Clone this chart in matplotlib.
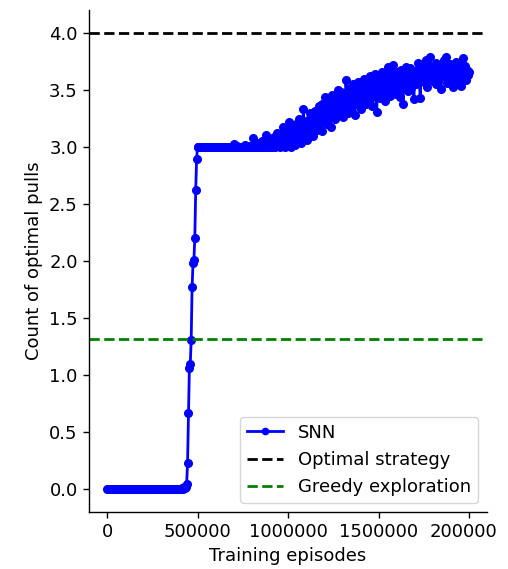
import numpy as np
import matplotlib
matplotlib.use("Agg")
import matplotlib.pyplot as plt
from matplotlib.transforms import Bbox, TransformedBbox

# 每 5000 個 episode 記錄一次
episodes = np.arange(0, 2000001, 5000)

# 平均最佳拉桿次數（從圖上讀的）
snn_pulls = [
    # 0 .. 395000
    0, 0, 0, 0, 0, 0, 0, 0, 0, 0, 0, 0, 0, 0, 0, 0, 0, 0, 0, 0,
    0, 0, 0, 0, 0, 0, 0, 0, 0, 0, 0, 0, 0, 0, 0, 0, 0, 0, 0, 0,
    0, 0, 0, 0, 0, 0, 0, 0, 0, 0, 0, 0, 0, 0, 0, 0, 0, 0, 0, 0,
    0, 0, 0, 0, 0, 0, 0, 0, 0, 0, 0, 0, 0, 0, 0, 0, 0, 0, 0, 0,
    # 400000 .. 495000
    0.0, 0.0, 0.0, 0.01, 0.0, 0.02, 0.01, 0.02,
    0.05, 0.23, 0.67, 1.06, 1.10, 1.31, 1.77, 1.98, 2.01, 2.20, 2.62, 2.90,
    # 500000 .. 695000
    3.0, 3.0, 3.0, 3.0, 3.0, 3.0, 3.0, 3.0, 3.0, 3.0, 3.0, 3.0, 3.0, 3.0, 3.0, 3.0, 3.0, 3.0, 3.0, 3.0,
    3.0, 3.0, 3.0, 3.0, 3.0, 3.0, 3.0, 3.0, 3.0, 3.0, 3.0, 3.0, 3.0, 3.0, 3.0, 3.0, 3.0, 3.0, 3.0, 3.0,
    # 700000 .. 795000
    3.03, 3.0, 3.0, 3.0, 3.01, 3.0, 3.0, 3.0, 3.0, 3.0, 3.0, 3.0, 3.02, 3.0, 3.0, 3.0, 3.0, 3.01, 3.0, 3.0,
    # 800000 .. 895000
    3.0, 3.08, 3.0, 3.0, 3.02, 3.0, 3.04, 3.0, 3.0, 3.03, 3.0, 3.05, 3.01, 3.0, 3.06, 3.0, 3.11, 3.02, 3.0, 3.04,
    # 900000 .. 995000
    3.0, 3.07, 3.02, 3.0, 3.09, 3.03, 3.0, 3.06, 3.12, 3.01, 3.05, 3.0, 3.10, 3.04, 3.18, 3.02, 3.08, 3.0, 3.13, 3.05,
    # 1000000 .. 1095000
    3.03, 3.22, 3.08, 3.0, 3.14, 3.10, 3.05, 3.17, 3.02, 3.20, 3.12, 3.07, 3.25, 3.10, 3.04, 3.18, 3.13, 3.33, 3.09, 3.20,
    # 1100000 .. 1195000
    3.15, 3.06, 3.24, 3.18, 3.30, 3.12, 3.22, 3.27, 3.10, 3.19, 3.32, 3.24, 3.15, 3.28, 3.36, 3.20, 3.26, 3.14, 3.38, 3.30,
    # 1200000 .. 1295000
    3.24, 3.44, 3.31, 3.20, 3.35, 3.28, 3.40, 3.18, 3.33, 3.46, 3.30, 3.37, 3.25, 3.42, 3.35, 3.50, 3.29, 3.40, 3.34, 3.48,
    # 1300000 .. 1395000
    3.38, 3.26, 3.45, 3.36, 3.59, 3.41, 3.30, 3.47, 3.39, 3.52, 3.34, 3.44, 3.55, 3.40, 3.28, 3.49, 3.43, 3.57, 3.37, 3.50,
    # 1400000 .. 1495000
    3.45, 3.33, 3.53, 3.42, 3.60, 3.47, 3.38, 3.55, 3.50, 3.40, 3.62, 3.46, 3.52, 3.36, 3.58, 3.49, 3.64, 3.44, 3.31, 3.55,
    # 1500000 .. 1595000
    3.50, 3.60, 3.43, 3.56, 3.66, 3.48, 3.53, 3.40, 3.62, 3.54, 3.70, 3.50, 3.58, 3.45, 3.65, 3.57, 3.72, 3.52, 3.60, 3.47,
    # 1600000 .. 1695000
    3.56, 3.66, 3.50, 3.62, 3.44, 3.68, 3.58, 3.38, 3.63, 3.55, 3.70, 3.60, 3.49, 3.66, 3.57, 3.69, 3.52, 3.64, 3.60, 3.42,
    # 1700000 .. 1795000
    3.62, 3.55, 3.68, 3.60, 3.74, 3.58, 3.43, 3.66, 3.61, 3.71, 3.57, 3.65, 3.76, 3.60, 3.53, 3.69, 3.64, 3.79, 3.62, 3.67,
    # 1800000 .. 1895000
    3.58, 3.70, 3.63, 3.74, 3.55, 3.66, 3.72, 3.60, 3.68, 3.51, 3.71, 3.65, 3.76, 3.62, 3.79, 3.67, 3.56, 3.70, 3.64, 3.73,
    # 1900000 .. 2000000
    3.60, 3.69, 3.53, 3.66, 3.72, 3.62, 3.75, 3.58, 3.68, 3.64, 3.70, 3.54, 3.67, 3.78, 3.61, 3.66, 3.71, 3.59, 3.68, 3.63,
    3.66,
]

optimal_level = 4.0
greedy_level = 1.32

xticks = [0, 500000, 1000000, 1500000, 2000000]
yticks = [0.0, 0.5, 1.0, 1.5, 2.0, 2.5, 3.0, 3.5, 4.0]

FS = 13

fig = plt.figure(figsize=(5.08, 5.69), dpi=100)
ax = fig.add_axes([0.175, 0.100, 0.784, 0.882])

ax.plot(episodes, snn_pulls, color="b", marker=".", markersize=11,
        linewidth=2, label="SNN")
ax.axhline(optimal_level, color="k", linestyle="--", linewidth=2,
           label="Optimal strategy")
ax.axhline(greedy_level, color="g", linestyle="--", linewidth=2,
           label="Greedy exploration")

ax.set_xlim(-100000, 2100000)
ax.set_ylim(-0.2, 4.2)
ax.set_xticks(xticks)
ax.set_yticks(yticks)
ax.set_xticklabels([str(t) for t in xticks])
ax.set_yticklabels([f"{t:.1f}" for t in yticks])
ax.tick_params(labelsize=FS, length=4.5, width=1)

for side in ["top", "right"]:
    ax.spines[side].set_visible(False)
for side in ["left", "bottom"]:
    ax.spines[side].set_linewidth(1)

ax.set_xlabel("Training episodes", fontsize=FS)
ax.set_ylabel("Count of optimal pulls", fontsize=FS)
leg = ax.legend(loc="lower right", fontsize=FS, numpoints=1)
leg.legend_handles[0].set_markersize(9)

# 原圖右邊被裁掉，最後一個刻度字只看得到前 6 個字
fig.canvas.draw()
lab = ax.xaxis.get_major_ticks()[-1].label1
lab.set_clip_box(TransformedBbox(Bbox([[0, 0], [497 / 508, 1]]), fig.transFigure))
lab.set_clip_on(True)

fig.savefig("out.png", dpi=100)
